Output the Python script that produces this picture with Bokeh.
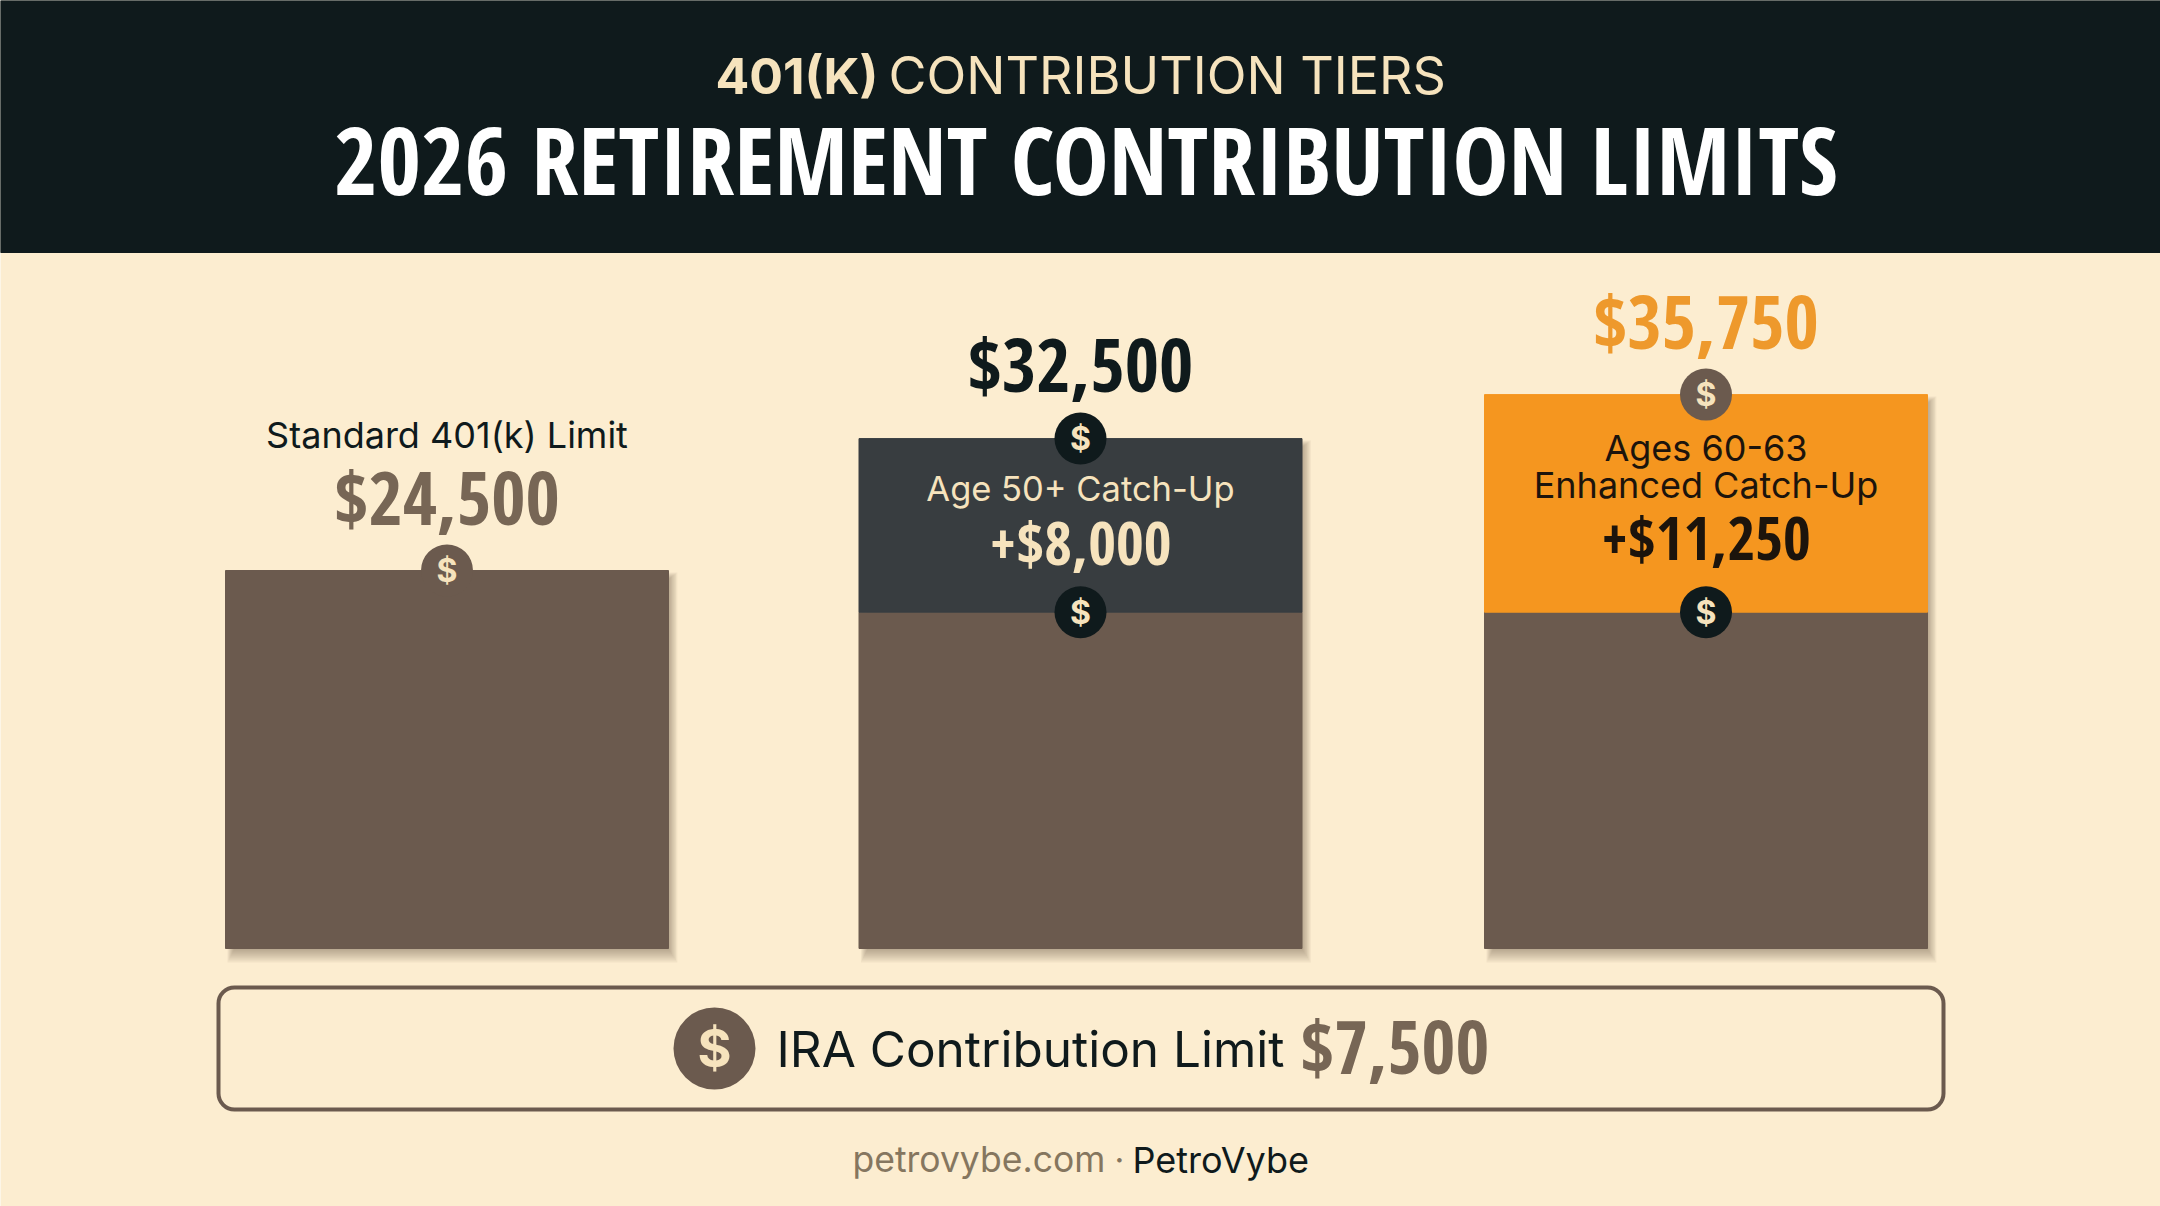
from bokeh.core.properties import value
from bokeh.embed import file_html
from bokeh.models import BoxAnnotation, Range1d
from bokeh.plotting import figure
from bokeh.resources import INLINE

# ---- data ----
tiers = ["Standard 401(k) Limit", "Age 50+ Catch-Up", "Ages 60-63 Enhanced Catch-Up"]
totals = [24500, 32500, 35750]
catch_up = [0, 8000, 11250]
ira_limit = 7500
# The drawn segment heights in the reference are not strictly proportional to the
# labelled values, so they are read separately, in dollars on the picture's own scale.
drawn_base = [24500, 21800, 21800]
drawn_top = [24500, 33050, 35900]

title = "2026 RETIREMENT CONTRIBUTION LIMITS"
subtitle_bold = "401(K)"
subtitle_rest = "CONTRIBUTION TIERS"
site = "petrovybe.com"
brand = "PetroVybe"

# ---- colours and layout ----
DARK, CREAM, BROWN, SLATE, ORANGE = "#0f1a1c", "#fcedd0", "#6b5a4e", "#383d40", "#f5961f"
PALE, MID = "#f6e3bd", "#776655"
SANS, COND = "Inter", "Open Sans Condensed"
W, H = 2160, 1206
BASE_PX, PX_PER_USD = 948, 378 / 24500
CENTERS = [446.5, 1080, 1705.5]
BAR_W = 443


def Y(px):
    return (BASE_PX - px) / PX_PER_USD


p = figure(width=W, height=H, output_backend="svg", toolbar_location=None,
           x_range=Range1d(0, W), y_range=Range1d(Y(H), Y(0)),
           min_border=0, background_fill_color=CREAM, border_fill_color=CREAM,
           outline_line_color=None)
p.axis.visible = False
p.grid.visible = False


def txt(x, y, s, size, color, font=SANS, style="normal", align="center"):
    p.text([x], [Y(y)], text=[s], text_font=value(font), text_font_size=f"{size}px",
           text_font_style=style, text_color=color, text_align=align, text_baseline="middle")


def money(v):
    return f"${v:,}"


# header band
p.quad(left=[0], right=[W], top=[Y(0)], bottom=[Y(252)], color=DARK)
txt(715, 75, subtitle_bold, 50, PALE, style="bold", align="left")
txt(888, 75, subtitle_rest, 52, PALE, align="left")
txt(1085.5, 158, title, 94, "#ffffff", COND, "bold")

# soft bar shadows: layered translucent boxes, wider at the bottom than at the side
for i in range(7):
    p.quad(left=[c - BAR_W / 2 + 8 - i for c in CENTERS],
           right=[c + BAR_W / 2 + 1 + i * 1.3 for c in CENTERS],
           top=[t - (8 - i) / PX_PER_USD for t in drawn_top],
           bottom=[-(2 + i * 2) / PX_PER_USD] * 3,
           fill_color="#3c2f22", fill_alpha=0.06, line_color=None)

# stacked bars
p.vbar(x=CENTERS, bottom=[0, 0, 0], top=drawn_base, width=BAR_W, color=BROWN)
p.vbar(x=CENTERS[1:], bottom=drawn_base[1:], top=drawn_top[1:], width=BAR_W, color=[SLATE, ORANGE])

# dollar badges
badge_x = [CENTERS[0], CENTERS[1], CENTERS[1], CENTERS[2], CENTERS[2]]
badge_y = [drawn_top[0], drawn_top[1], drawn_base[1], drawn_top[2], drawn_base[2]]
badge_c = [BROWN, DARK, DARK, BROWN, DARK]
p.scatter(badge_x, badge_y, marker="circle", size=52, fill_color=badge_c, line_color=None)
p.text(badge_x, badge_y, text=["$"] * 5, text_font=value(SANS), text_font_size="32px",
       text_font_style="bold", text_color=PALE, text_align="center", text_baseline="middle")

# bar 1 labels
txt(CENTERS[0], 434, tiers[0], 36, DARK)
txt(CENTERS[0], 496, money(totals[0]), 74, MID, COND, "bold")

# bar 2 labels
txt(CENTERS[1], 363, money(totals[1]), 74, DARK, COND, "bold")
txt(CENTERS[1], 488, tiers[1], 34.5, PALE)
txt(CENTERS[1], 541, "+" + money(catch_up[1]), 60, PALE, COND, "bold")

# bar 3 labels
txt(CENTERS[2], 320, money(totals[2]), 74, "#ee992c", COND, "bold")
txt(CENTERS[2], 447, "Ages 60-63", 36, "#1c140c")
txt(CENTERS[2], 484, "Enhanced Catch-Up", 36, "#1c140c")
txt(CENTERS[2], 536, "+" + money(catch_up[2]), 60, "#1c140c", COND, "bold")

# IRA panel
p.add_layout(BoxAnnotation(left=218, right=1943, top=Y(987), bottom=Y(1109),
                           fill_alpha=0, line_color=BROWN, line_alpha=1, line_width=4, border_radius=16))
p.scatter([714], [Y(1048)], marker="circle", size=82, fill_color=BROWN, line_color=None)
txt(714, 1048, "$", 52, PALE, style="bold")
txt(776, 1048, "IRA Contribution Limit", 49.5, DARK, align="left")
txt(1300, 1045, money(ira_limit), 73, MID, COND, "bold", align="left")

# footer
txt(852, 1159, site, 35.5, "#85765f", align="left")
txt(1119, 1159, "·", 34, "#85765f")
txt(1132, 1159, brand, 36, DARK, align="left")

open("out.html", "w").write(file_html(p, INLINE))
